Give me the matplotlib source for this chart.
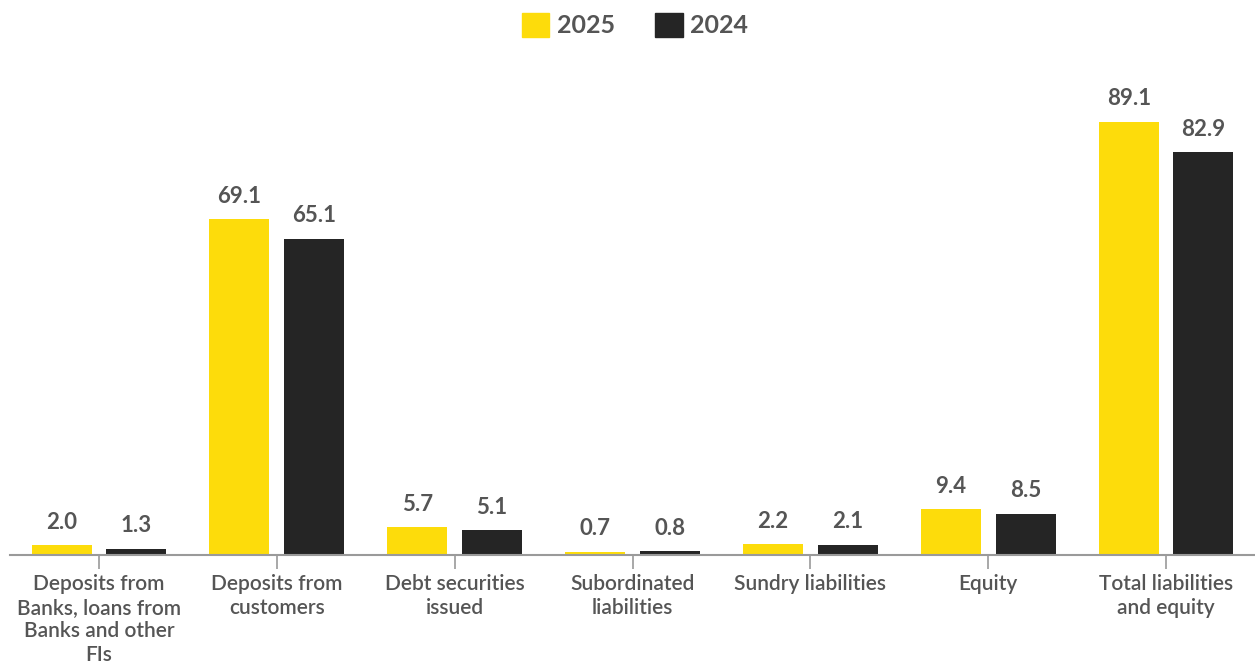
import matplotlib
matplotlib.use("Agg")
import matplotlib.pyplot as plt
import numpy as np
from matplotlib.patches import Patch

categories = ["Deposits from\nBanks, loans from\nBanks and other\nFIs",
              "Deposits from\ncustomers",
              "Debt securities\nissued",
              "Subordinated\nliabilities",
              "Sundry liabilities",
              "Equity",
              "Total liabilities\nand equity"]
vals_2025 = [2.0, 69.1, 5.7, 0.7, 2.2, 9.4, 89.1]
vals_2024 = [1.3, 65.1, 5.1, 0.8, 2.1, 8.5, 82.9]
series_names = ["2025", "2024"]

YELLOW = "#FDDC0B"
DARK = "#252525"
TEXT = "#555555"
AXIS = "#9a9a9a"

plt.rcParams['font.family'] = ['Lato', 'DejaVu Sans']

fig = plt.figure(figsize=(12.55, 6.68), dpi=100)
ax = fig.add_axes([10/1255, 1-555/668, 1245/1255, (555-70)/668])

x = np.arange(len(categories))
w = 0.337
off = 0.21
b1 = ax.bar(x - off, vals_2025, w, color=YELLOW, label=series_names[0])
b2 = ax.bar(x + off, vals_2024, w, color=DARK, label=series_names[1])

for bars, vals in ((b1, vals_2025), (b2, vals_2024)):
    for rect, v in zip(bars, vals):
        ax.annotate(f"{v:.1f}", (rect.get_x() + rect.get_width()/2, v),
                    xytext=(0, 9), textcoords="offset points",
                    ha="center", va="bottom", fontsize=16, fontweight="bold",
                    color=TEXT)

ax.set_xlim(-0.5, len(categories) - 0.5)
ax.set_ylim(0, (555-70)/4.86)
ax.set_xticks(x)
ax.set_xticklabels(categories, fontsize=15, color=TEXT, linespacing=1.22,
                   fontweight="semibold")
ax.tick_params(axis='x', length=10, width=1.2, color=AXIS, pad=4)
ax.set_yticks([])
for s in ["top", "right", "left"]:
    ax.spines[s].set_visible(False)
ax.spines["bottom"].set_color(AXIS)
ax.spines["bottom"].set_linewidth(1.5)

handles = [Patch(color=YELLOW, label=series_names[0]), Patch(color=DARK, label=series_names[1])]
fig.legend(handles=handles, loc="center", bbox_to_anchor=(0.506, 1-25/668), ncol=2,
           frameon=False, handlelength=1.1, handleheight=1.1, handletextpad=0.3,
           columnspacing=1.6, prop={'size': 18, 'weight': 'bold'}, labelcolor=TEXT)

fig.savefig("out.png", dpi=100)
